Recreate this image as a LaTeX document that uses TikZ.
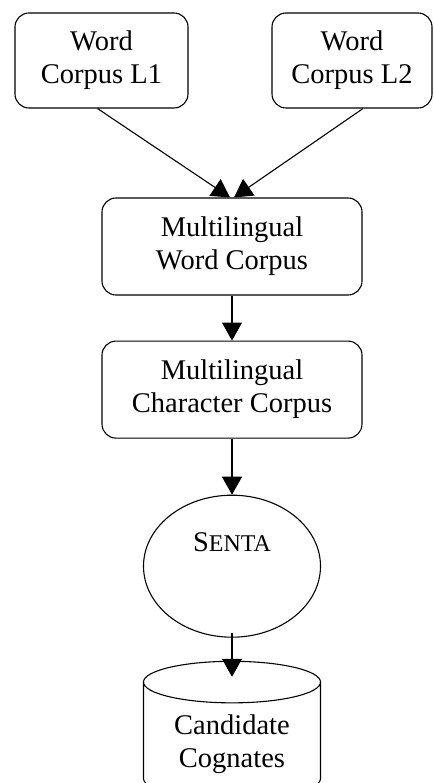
\documentclass[tikz,border=0pt]{standalone}
\usepackage{fontspec}
\setmainfont{Liberation Serif}
\usetikzlibrary{shapes,arrows.meta,positioning}

\begin{document}
\begin{tikzpicture}[x=1pt, y=1pt, line width=1.1pt, >={Triangle[length=18pt,width=20pt]},
        font=\fontsize{28.5}{33}\selectfont,
        box/.style={draw, rectangle, rounded corners=14pt, align=center, minimum height=95pt}]
        \useasboundingbox (0,0) rectangle (433,-783);
        % Word corpora
        \node[box, minimum width=173pt] (wl1) at (101.5,-60.5) {Word\\Corpus L1};
        \node[box, minimum width=160pt] (wl2) at (352,-60.5) {Word\\Corpus L2};
        
        % Multilingual corpora
        \node[box, minimum width=260pt, minimum height=97pt] (mwc) at (232,-246.5) {Multilingual\\Word Corpus};
        \node[box, minimum width=260pt, minimum height=97pt, below=45pt of mwc] (mcc) {Multilingual\\Character Corpus};
        
        % Senta and cognates
        \node[draw, ellipse, minimum width=177pt, minimum height=142pt, inner sep=0pt, text height=20pt, text depth=49pt, below=56pt of mcc] (senta) {S{\fontsize{24}{24}\selectfont ENTA}};
        \node[draw, cylinder, shape border rotate=90, aspect=0.34, minimum width=177pt, minimum height=138pt, align=center, below=23pt of senta] (cog) {Candidate\\Cognates};
        
        % Arrows
        \draw[->] ([xshift=-4pt]wl1.south) -- ([xshift=-2pt]mwc.north);
        \draw[->] ([xshift=11pt]wl2.south) -- ([xshift=2pt]mwc.north);
        \draw[->] (mwc) -- (mcc);
        \draw[->] (mcc) -- (senta);
        \draw[->] ([yshift=5pt]senta.south) -- ([yshift=-16pt]cog.north);
    \end{tikzpicture}
\end{document}
